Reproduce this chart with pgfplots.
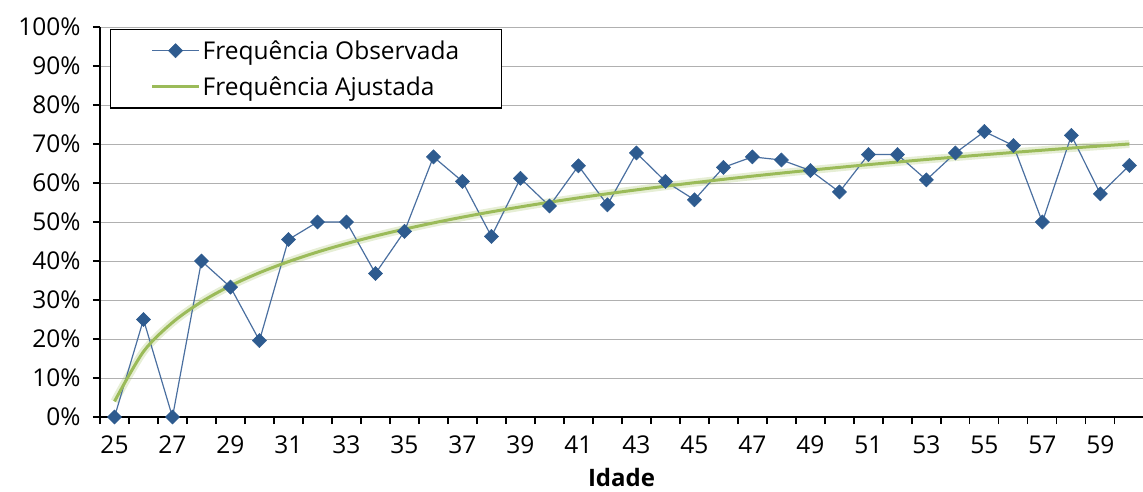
\documentclass[border=0pt]{standalone}
\usepackage{pgfplots}
\pgfplotsset{compat=1.18}
\usepackage{fontspec}
\setmainfont{Open Sans}
\definecolor{obsline}{HTML}{4A6FA0}
\definecolor{obsmark}{HTML}{2E5B8F}
\definecolor{fitgreen}{HTML}{9BBB59}
\definecolor{gridgray}{HTML}{B0B0B0}
\pgfplotsset{
  mylegimg/.style={legend image code/.code={\draw[mark repeat=2,mark phase=2,##1] plot coordinates {(0pt,0pt) (23.5pt,0pt) (47pt,0pt)};}},
}
\pgfplotstableread{
x y
25 4.00
26 16.77
27 24.24
28 29.54
29 33.65
30 37.00
31 39.84
32 42.30
33 44.47
34 46.41
35 48.17
36 49.77
37 51.25
38 52.61
39 53.88
40 55.07
41 56.19
42 57.24
43 58.24
44 59.18
45 60.08
46 60.94
47 61.76
48 62.54
49 63.29
50 64.01
51 64.71
52 65.38
53 66.03
54 66.65
55 67.25
56 67.84
57 68.41
58 68.96
59 69.49
60 70.01
}\fittable
\begin{document}
\begin{tikzpicture}
\useasboundingbox (-100pt,-74pt) rectangle (1043pt,417pt);
\begin{axis}[
  at={(0pt,0pt)}, anchor=south west,
  scale only axis, width=1043pt, height=390pt,
  xmin=24.5, xmax=60.47, ymin=0, ymax=100,
  clip=false,
  axis lines=left,
  axis line style={-, line width=1.2pt, black},
  tick align=outside,
  major tick length=7pt,
  tick style={black, line width=1.2pt},
  xtick={24.5,25.5,...,60.5},
  xticklabels={},
  extra x ticks={25,27,...,59},
  extra x tick style={major tick length=0pt, xticklabel style={yshift=-15pt}},
  ytick={0,10,...,100},
  yticklabel={\pgfmathprintnumber{\tick}\%},
  /pgf/number format/assume math mode=true,
  ymajorgrids,
  grid style={gridgray, line width=1pt},
  tick label style={font=\fontsize{24.5}{28}\selectfont},
  yticklabel style={xshift=-9pt},
  xlabel={Idade},
  xlabel style={font=\fontsize{24}{28}\selectfont\bfseries, at={(axis description cs:0.5,0)}, anchor=center, yshift=-60.5pt},
  legend cell align=left,
  legend style={at={(0.0096,0.995)}, anchor=north west, draw=black, line width=1.2pt,
    inner xsep=40pt, inner ysep=9pt, row sep=12pt, font=\fontsize{24.5}{28}\selectfont},
]
\addplot[fitgreen, opacity=0.25, line width=8pt, smooth, forget plot] table {\fittable};
\addplot[obsline, line width=1.2pt, mark=square*, mark size=5pt,
  mark options={rotate=45, fill=obsmark, draw=obsmark, line width=0.5pt}, mylegimg]
coordinates {
(25,0) (26,25) (27,0) (28,40) (29,33.3) (30,19.6) (31,45.5) (32,50) (33,50) (34,36.8)
(35,47.6) (36,66.7) (37,60.4) (38,46.3) (39,61.2) (40,54.1) (41,64.4) (42,54.4) (43,67.7)
(44,60.4) (45,55.7) (46,64.0) (47,66.7) (48,65.9) (49,63.2) (50,57.7) (51,67.3) (52,67.3)
(53,60.8) (54,67.7) (55,73.2) (56,69.6) (57,50) (58,72.2) (59,57.2) (60,64.5)
};
\addlegendentry{Frequência Observada}
\addplot[fitgreen, line width=3pt, smooth, mylegimg] table {\fittable};
\addlegendentry{Frequência Ajustada}
\end{axis}
\end{tikzpicture}
\end{document}
